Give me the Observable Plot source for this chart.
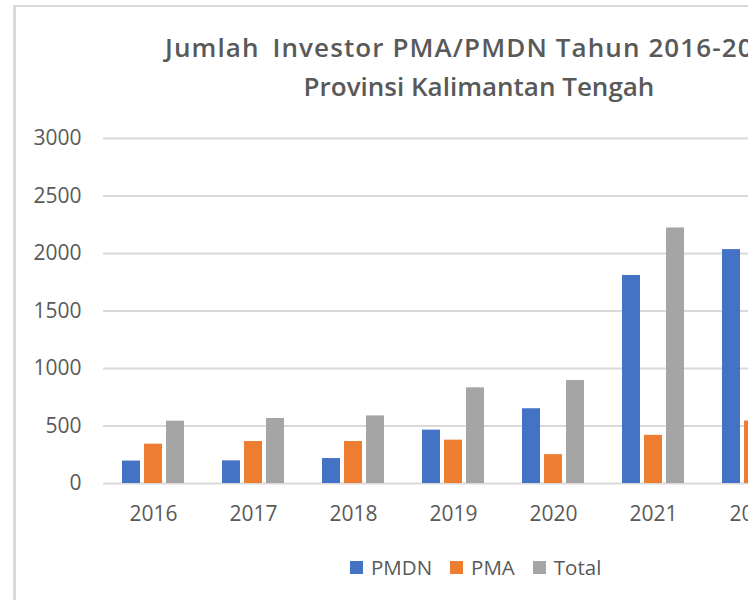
<!DOCTYPE html>
<html>
<head>
<meta charset="utf-8">
<script src="https://cdn.jsdelivr.net/npm/d3@7"></script>
<script src="https://cdn.jsdelivr.net/npm/@observablehq/plot@0.6"></script>
<style>
  html, body { margin: 0; padding: 0; width: 748px; height: 600px; overflow: hidden; background: #fff; }
  body { position: relative; font-family: "Open Sans", sans-serif; color: #595959; }
  #frame { position: absolute; left: 13px; top: 5px; width: 1000px; height: 700px;
           border-left: 3px solid #d9d9d9; border-top: 2px solid #d9d9d9; }
  .tline { position: absolute; font-size: 26px; font-weight: 600; line-height: 39px; white-space: nowrap; color: #595959; }
  #t1 { left: 165px; top: 28px; letter-spacing: 1.1px; }
  #t1 .w1 { margin-right: 5px; }
  #t2 { left: 16px; top: 67px; width: 926px; text-align: center; }
  #plot { position: absolute; left: 0; top: 110px; width: 934px; }
  #plot svg { max-width: none !important; }
  #legend { position: absolute; left: 350px; top: 552px; height: 30px; display: flex; align-items: center;
            font-size: 20.5px; color: #595959; white-space: nowrap; }
  .item { display: flex; align-items: center; margin-right: 18px; }
  .sw { width: 13px; height: 13px; margin-right: 8px; }
</style>
</head>
<body>
<div id="frame"></div>
<div id="t1" class="tline"><span class="w1">Jumlah</span> Investor PMA/PMDN Tahun 2016-2023</div>
<div id="t2" class="tline">Provinsi Kalimantan Tengah</div>
<div id="plot"></div>
<div id="legend"></div>
<script>
const years = ["2016", "2017", "2018", "2019", "2020", "2021", "2022", "2023"];
const seriesNames = ["PMDN", "PMA", "Total"];
const seriesColors = ["#4472C4", "#ED7D31", "#A5A5A5"];
const pmdn  = [195, 197, 217, 464, 650, 1809, 2034];
const pma   = [342, 365, 365, 377, 251, 419, 543];
const total = [542, 565, 588, 832, 896, 2222];
const yTicks = [0, 500, 1000, 1500, 2000, 2500, 3000];

const table = [];
[pmdn, pma, total].forEach((vals, si) => {
  vals.forEach((v, i) => table.push({year: years[i], series: seriesNames[si], value: v}));
});

const chart = Plot.plot({
  width: 934,
  height: 418,
  marginLeft: 103,
  marginRight: 31,
  marginTop: 28,
  marginBottom: 45,
  style: {fontFamily: "Open Sans, sans-serif", fontSize: "21px", color: "#595959", background: "transparent", maxWidth: "none", overflow: "visible"},
  fx: {domain: years, padding: 0, tickSize: 0, tickPadding: 23, label: null, axis: "bottom"},
  x: {domain: seriesNames, paddingInner: 0.2, paddingOuter: 0.86, axis: null},
  y: {domain: [0, 3000], ticks: yTicks, tickSize: 0, tickPadding: 22, label: null, tickFormat: d => String(d)},
  color: {domain: seriesNames, range: seriesColors},
  marks: [
    Plot.gridY(yTicks, {stroke: "#d9d9d9", strokeOpacity: 1, strokeWidth: 2}),
    Plot.barY(table, {fx: "year", x: "series", y: "value", fill: "series"})
  ]
});
document.getElementById("plot").appendChild(chart);

const legend = document.getElementById("legend");
seriesNames.forEach((name, i) => {
  const item = document.createElement("div");
  item.className = "item";
  const sw = document.createElement("div");
  sw.className = "sw";
  sw.style.background = seriesColors[i];
  const label = document.createElement("span");
  label.textContent = name;
  item.appendChild(sw);
  item.appendChild(label);
  legend.appendChild(item);
});
</script>
</body>
</html>
